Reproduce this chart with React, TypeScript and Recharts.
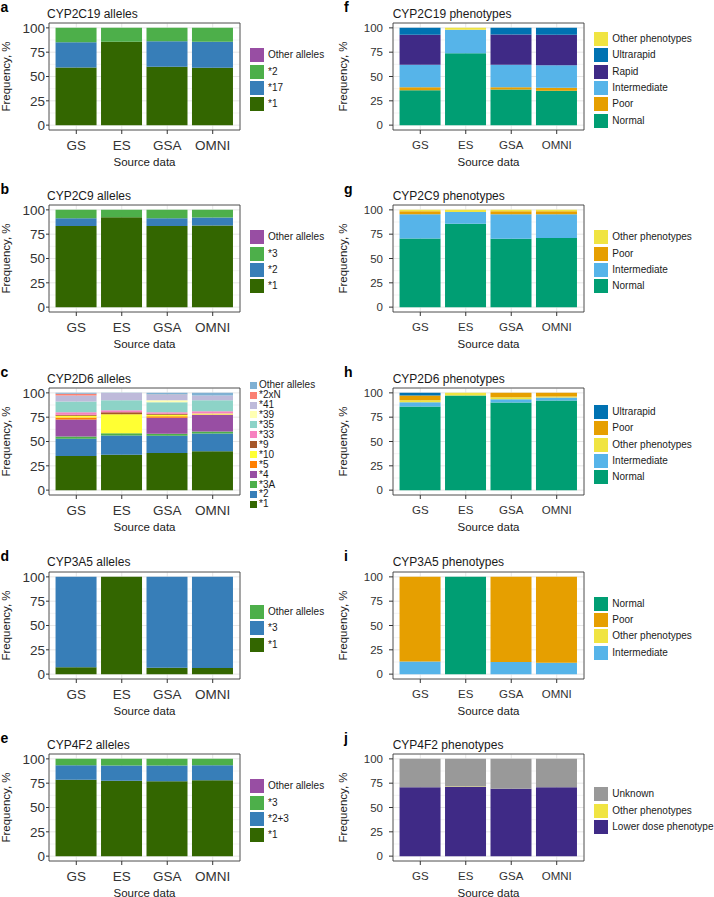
import { BarChart, Bar, XAxis, YAxis, CartesianGrid, ReferenceArea, Legend } from 'recharts'

const sources = ['GS', 'ES', 'GSA', 'OMNI']
const freqTicks = [0, 25, 50, 75, 100]
const minorTicks = [12.5, 37.5, 62.5, 87.5]

// a - CYP2C19 alleles
const cyp2c19Star1 = [59.2, 85.6, 59.9, 58.9]
const cyp2c19Star17 = [26.1, 0, 26.4, 26.7]
const cyp2c19Star2 = [14.7, 14.4, 13.7, 14.4]
const cyp2c19OtherAlleles = [0, 0, 0, 0]

// f - CYP2C19 phenotypes
const cyp2c19Normal = [35.9, 74, 36.6, 35.3]
const cyp2c19Poor = [3.1, 0, 2.4, 3.1]
const cyp2c19Intermediate = [23, 24, 23, 23.2]
const cyp2c19Rapid = [30.8, 0, 31.2, 31.2]
const cyp2c19Ultrarapid = [7.2, 0, 6.8, 7.2]
const cyp2c19OtherPheno = [0, 2, 0, 0]

// b - CYP2C9 alleles
const cyp2c9Star1 = [83.3, 92.5, 83.3, 84]
const cyp2c9Star2 = [8.2, 0, 8.2, 8.2]
const cyp2c9Star3 = [8.5, 7.5, 8.5, 7.8]
const cyp2c9OtherAlleles = [0, 0, 0, 0]

// g - CYP2C9 phenotypes
const cyp2c9Normal = [70.6, 85.7, 70.3, 71]
const cyp2c9Intermediate = [25, 12.2, 25.3, 24.6]
const cyp2c9Poor = [3, 0, 3, 3]
const cyp2c9OtherPheno = [1.4, 2.1, 1.4, 1.4]

// c - CYP2D6 alleles
const cyp2d6Star1 = [35, 36.5, 38.3, 40]
const cyp2d6Star2 = [17.7, 19.7, 17.5, 18.2]
const cyp2d6Star3A = [2.4, 2.4, 2.1, 2.1]
const cyp2d6Star4 = [17.5, 0, 16.4, 17.1]
const cyp2d6Star5 = [2.1, 0, 1.7, 0.3]
const cyp2d6Star10 = [1.7, 19.5, 1.4, 1]
const cyp2d6Star9 = [1, 2, 1, 0.2]
const cyp2d6Star33 = [2.7, 2.1, 1.7, 2.3]
const cyp2d6Star35 = [11, 10.3, 10.3, 11.3]
const cyp2d6Star39 = [0, 0, 2.1, 0]
const cyp2d6Star41 = [6.2, 7.3, 5.5, 4.8]
const cyp2d6Star2xN = [1.7, 0, 0.3, 0]
const cyp2d6OtherAlleles = [1, 0.2, 1.7, 2.7]

// h - CYP2D6 phenotypes
const cyp2d6Normal = [86, 97.3, 90, 92.1]
const cyp2d6Intermediate = [4.4, 0, 3.5, 3.1]
const cyp2d6OtherPheno = [2.1, 2.7, 2, 1]
const cyp2d6Poor = [4.8, 0, 4.5, 3.8]
const cyp2d6Ultrarapid = [2.7, 0, 0, 0]

// d - CYP3A5 alleles
const cyp3a5Star1 = [7.2, 100, 6.5, 6.2]
const cyp3a5Star3 = [92.8, 0, 93.5, 93.8]
const cyp3a5OtherAlleles = [0, 0, 0, 0]

// i - CYP3A5 phenotypes
const cyp3a5Intermediate = [13.1, 0, 12.4, 11.7]
const cyp3a5OtherPheno = [0, 0, 0, 0]
const cyp3a5Poor = [86.9, 0, 87.6, 88.3]
const cyp3a5Normal = [0, 100, 0, 0]

// e - CYP4F2 alleles
const cyp4f2Star1 = [78.6, 77.6, 76.9, 77.9]
const cyp4f2Star2p3 = [14.9, 15.6, 16.3, 15.6]
const cyp4f2Star3 = [6.5, 6.8, 6.8, 6.5]
const cyp4f2OtherAlleles = [0, 0, 0, 0]

// j - CYP4F2 phenotypes
const cyp4f2LowerDose = [70.7, 71, 69.4, 70.7]
const cyp4f2OtherPheno = [0, 0.6, 0, 0]
const cyp4f2Unknown = [29.3, 28.4, 30.6, 29.3]

// colours
const DARK_GREEN = '#336600'
const BLUE = '#377EB8'
const GREEN = '#4DAF4A'
const PURPLE = '#984EA3'
const ORANGE = '#FF7F00'
const YELLOW = '#FFFF33'
const BROWN = '#A65628'
const PINK = '#F781BF'
const TEAL = '#8DD3C7'
const PALE_YELLOW = '#FFFFB3'
const LAVENDER = '#BEBADA'
const SALMON = '#FB8072'
const LIGHT_BLUE = '#80B1D3'

const NORMAL = '#009E73'
const POOR = '#E69F00'
const INTERMEDIATE = '#56B4E9'
const RAPID = '#3F2A86'
const ULTRARAPID = '#0072B2'
const OTHER_PHENO = '#F0E442'
const UNKNOWN = '#999999'

type Series = { name: string; values: number[]; color: string }
type PanelDef = { letter: string; title: string; row: number; col: number; small?: boolean; series: Series[] }

const panels: PanelDef[] = [
  {
    letter: 'a', title: 'CYP2C19 alleles', row: 0, col: 0,
    series: [
      { name: '*1', values: cyp2c19Star1, color: DARK_GREEN },
      { name: '*17', values: cyp2c19Star17, color: BLUE },
      { name: '*2', values: cyp2c19Star2, color: GREEN },
      { name: 'Other alleles', values: cyp2c19OtherAlleles, color: PURPLE },
    ],
  },
  {
    letter: 'f', title: 'CYP2C19 phenotypes', row: 0, col: 1,
    series: [
      { name: 'Normal', values: cyp2c19Normal, color: NORMAL },
      { name: 'Poor', values: cyp2c19Poor, color: POOR },
      { name: 'Intermediate', values: cyp2c19Intermediate, color: INTERMEDIATE },
      { name: 'Rapid', values: cyp2c19Rapid, color: RAPID },
      { name: 'Ultrarapid', values: cyp2c19Ultrarapid, color: ULTRARAPID },
      { name: 'Other phenotypes', values: cyp2c19OtherPheno, color: OTHER_PHENO },
    ],
  },
  {
    letter: 'b', title: 'CYP2C9 alleles', row: 1, col: 0,
    series: [
      { name: '*1', values: cyp2c9Star1, color: DARK_GREEN },
      { name: '*2', values: cyp2c9Star2, color: BLUE },
      { name: '*3', values: cyp2c9Star3, color: GREEN },
      { name: 'Other alleles', values: cyp2c9OtherAlleles, color: PURPLE },
    ],
  },
  {
    letter: 'g', title: 'CYP2C9 phenotypes', row: 1, col: 1,
    series: [
      { name: 'Normal', values: cyp2c9Normal, color: NORMAL },
      { name: 'Intermediate', values: cyp2c9Intermediate, color: INTERMEDIATE },
      { name: 'Poor', values: cyp2c9Poor, color: POOR },
      { name: 'Other phenotypes', values: cyp2c9OtherPheno, color: OTHER_PHENO },
    ],
  },
  {
    letter: 'c', title: 'CYP2D6 alleles', row: 2, col: 0, small: true,
    series: [
      { name: '*1', values: cyp2d6Star1, color: DARK_GREEN },
      { name: '*2', values: cyp2d6Star2, color: BLUE },
      { name: '*3A', values: cyp2d6Star3A, color: GREEN },
      { name: '*4', values: cyp2d6Star4, color: PURPLE },
      { name: '*5', values: cyp2d6Star5, color: ORANGE },
      { name: '*10', values: cyp2d6Star10, color: YELLOW },
      { name: '*9', values: cyp2d6Star9, color: BROWN },
      { name: '*33', values: cyp2d6Star33, color: PINK },
      { name: '*35', values: cyp2d6Star35, color: TEAL },
      { name: '*39', values: cyp2d6Star39, color: PALE_YELLOW },
      { name: '*41', values: cyp2d6Star41, color: LAVENDER },
      { name: '*2xN', values: cyp2d6Star2xN, color: SALMON },
      { name: 'Other alleles', values: cyp2d6OtherAlleles, color: LIGHT_BLUE },
    ],
  },
  {
    letter: 'h', title: 'CYP2D6 phenotypes', row: 2, col: 1,
    series: [
      { name: 'Normal', values: cyp2d6Normal, color: NORMAL },
      { name: 'Intermediate', values: cyp2d6Intermediate, color: INTERMEDIATE },
      { name: 'Other phenotypes', values: cyp2d6OtherPheno, color: OTHER_PHENO },
      { name: 'Poor', values: cyp2d6Poor, color: POOR },
      { name: 'Ultrarapid', values: cyp2d6Ultrarapid, color: ULTRARAPID },
    ],
  },
  {
    letter: 'd', title: 'CYP3A5 alleles', row: 3, col: 0,
    series: [
      { name: '*1', values: cyp3a5Star1, color: DARK_GREEN },
      { name: '*3', values: cyp3a5Star3, color: BLUE },
      { name: 'Other alleles', values: cyp3a5OtherAlleles, color: GREEN },
    ],
  },
  {
    letter: 'i', title: 'CYP3A5 phenotypes', row: 3, col: 1,
    series: [
      { name: 'Intermediate', values: cyp3a5Intermediate, color: INTERMEDIATE },
      { name: 'Other phenotypes', values: cyp3a5OtherPheno, color: OTHER_PHENO },
      { name: 'Poor', values: cyp3a5Poor, color: POOR },
      { name: 'Normal', values: cyp3a5Normal, color: NORMAL },
    ],
  },
  {
    letter: 'e', title: 'CYP4F2 alleles', row: 4, col: 0,
    series: [
      { name: '*1', values: cyp4f2Star1, color: DARK_GREEN },
      { name: '*2+3', values: cyp4f2Star2p3, color: BLUE },
      { name: '*3', values: cyp4f2Star3, color: GREEN },
      { name: 'Other alleles', values: cyp4f2OtherAlleles, color: PURPLE },
    ],
  },
  {
    letter: 'j', title: 'CYP4F2 phenotypes', row: 4, col: 1,
    series: [
      { name: 'Lower dose phenotype', values: cyp4f2LowerDose, color: RAPID },
      { name: 'Other phenotypes', values: cyp4f2OtherPheno, color: OTHER_PHENO },
      { name: 'Unknown', values: cyp4f2Unknown, color: UNKNOWN },
    ],
  },
]

// layout (px)
const FRAME_TOPS = [23, 205, 388, 571.5, 754]
const FRAME_H = 107
const FRAME_W = 191
const TOP_PAD = 5
const X_AXIS_H = 45
const TEXT = '#1a1a1a'
const AXIS = '#333333'

function KeyList({ series, small }: { series: Series[]; small?: boolean }) {
  const rowH = small ? 9.94 : 16.3
  const key = small ? 7 : 14
  return (
    <div style={{ whiteSpace: 'nowrap' }}>
      {[...series].reverse().map((s) => (
        <div key={s.name} style={{ display: 'flex', alignItems: 'center', height: rowH }}>
          <span style={{ display: 'inline-block', width: key, height: key, background: s.color, marginRight: small ? 2 : 4 }} />
          <span style={{ fontSize: 10, lineHeight: '10px', color: TEXT }}>{s.name}</span>
        </div>
      ))}
    </div>
  )
}

function Panel({ p }: { p: PanelDef }) {
  const left = p.col === 0 ? 0 : 337
  const width = p.col === 0 ? 337 : 377
  const yW = p.col === 0 ? 49 : 56
  const frameTop = FRAME_TOPS[p.row]
  const height = TOP_PAD + FRAME_H + X_AXIS_H
  const tickFont = p.col === 0 ? 13.5 : 11.5
  const data = sources.map((src, i) => {
    const row: Record<string, number | string> = { idx: i, src }
    p.series.forEach((s, k) => {
      row['s' + k] = s.values[i]
    })
    return row
  })
  const rowH = p.small ? 9.94 : 16.3
  const legendTop = TOP_PAD + FRAME_H / 2 + 3.3 - (p.series.length * rowH) / 2
  const legendLeft = p.col === 0 ? 250 : 257.3

  return (
    <>
      <div style={{ position: 'absolute', left: p.col === 0 ? 0.5 : 344, top: frameTop - 11 - 11.85, fontWeight: 'bold', fontSize: 14, lineHeight: '14px', color: '#000' }}>
        {p.letter}
      </div>
      <div style={{ position: 'absolute', left: p.col === 0 ? 47 : 392.7, top: frameTop - 5 - 10.2, fontSize: 12, lineHeight: '12px', whiteSpace: 'nowrap', color: TEXT }}>
        {p.title}
      </div>
      <div style={{ position: 'absolute', left, top: frameTop - TOP_PAD }}>
        <BarChart width={width} height={height} data={data} margin={{ top: TOP_PAD, right: width - yW - FRAME_W, bottom: 0, left: 0 }}>
          <CartesianGrid stroke="#f3f3f3" vertical={false} horizontalValues={minorTicks} />
          <CartesianGrid stroke="#e6e6e6" />
          <XAxis
            type="number"
            dataKey="idx"
            domain={[-0.6, 3.6]}
            ticks={[0, 1, 2, 3]}
            allowDataOverflow
            tickFormatter={(v: number) => sources[v]}
            height={X_AXIS_H}
            axisLine={false}
            tickLine={{ stroke: AXIS }}
            tickSize={4}
            tickMargin={6.5}
            tick={{ fontSize: tickFont, fill: AXIS }}
            label={{ value: 'Source data', position: 'insideBottom', offset: 9.5, fontSize: 11.5, fill: TEXT }}
          />
          <YAxis
            domain={[-5, 105]}
            ticks={freqTicks}
            allowDataOverflow
            width={yW}
            axisLine={false}
            tickLine={{ stroke: AXIS }}
            tickSize={p.col === 0 ? 3 : 4}
            tickMargin={p.col === 0 ? 1 : 6}
            tick={{ fontSize: tickFont, fill: AXIS }}
            label={{ value: 'Frequency, %', angle: -90, position: 'insideLeft', offset: p.col === 0 ? 5.8 : 6.1, fontSize: 11.5, fill: TEXT, style: { textAnchor: 'middle' } }}
          />
          {p.series.map((s, k) => (
            <Bar key={s.name} dataKey={'s' + k} name={s.name} stackId="a" fill={s.color} barSize={41} isAnimationActive={false} />
          ))}
          <ReferenceArea x1={-0.6} x2={3.6} y1={-5} y2={105} fill="none" stroke={AXIS} strokeWidth={0.8} ifOverflow="visible" />
          <Legend
            layout="vertical"
            align="center"
            verticalAlign="middle"
            wrapperStyle={{ left: legendLeft, top: legendTop, width: 125, margin: 0 }}
            content={() => <KeyList series={p.series} small={p.small} />}
          />
        </BarChart>
      </div>
    </>
  )
}

export default function App() {
  return (
    <div
      style={{
        position: 'absolute',
        left: 0,
        top: 0,
        width: 714,
        height: 897,
        background: '#fff',
        overflow: 'hidden',
        fontFamily: '"Liberation Sans", Arial, Helvetica, sans-serif',
      }}
    >
      {panels.map((p) => (
        <Panel key={p.letter} p={p} />
      ))}
    </div>
  )
}
